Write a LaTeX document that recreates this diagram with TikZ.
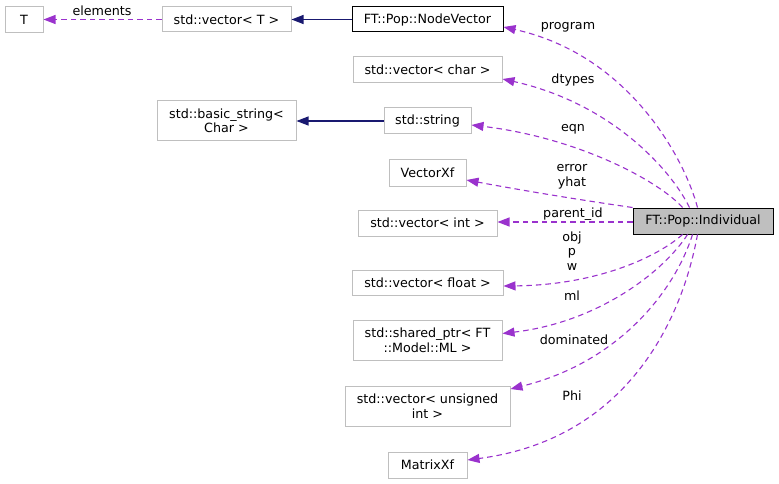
\documentclass[tikz,border=0pt]{standalone}
\usepackage{fontspec}
\setmainfont{DejaVu Sans}
\usetikzlibrary{arrows.meta}
\definecolor{usecol}{HTML}{9A32CD}
\definecolor{inhcol}{HTML}{191970}
\definecolor{boxgray}{HTML}{BFBFBF}
\tikzset{
  box/.style={draw=boxgray, fill=white, inner sep=0pt, align=center, line width=1pt,
    font=\fontsize{12.7}{14.5}\selectfont},
  refbox/.style={box, draw=black},
  mainbox/.style={box, draw=black, fill=boxgray},
  usage/.style={draw=usecol, line width=1.1pt, dash pattern=on 5.5pt off 4pt,
    -{Triangle[length=12pt,width=9pt,fill=usecol]}},
  inherit/.style={draw=inhcol, line width=1.1pt,
    -{Triangle[length=12pt,width=9pt,fill=inhcol]}},
  lbl/.style={inner sep=0pt, align=center, font=\fontsize{12.7}{14.5}\selectfont}
}
\begin{document}
\begin{tikzpicture}[x=1pt,y=-1pt]
\useasboundingbox (0,0) rectangle (779,484);
\fill[white] (0,0) rectangle (779,484);

\node[box, minimum width=38pt, minimum height=26pt] (T) at (24,19.5) {T};
\node[box, minimum width=129pt, minimum height=25pt] (vecT) at (226.5,19.5) {std::vector< T >};
\node[refbox, minimum width=151pt, minimum height=25pt] (prog) at (427.5,19.5) {FT::Pop::NodeVector};
\node[box, minimum width=149pt, minimum height=26pt] (vchar) at (427.5,70) {std::vector< char >};
\node[box, minimum width=139pt, minimum height=40pt] (bstr) at (226.5,121) {std::basic\_string<\\Char >};
\node[box, minimum width=87pt, minimum height=26pt] (str) at (427.5,121) {std::string};
\node[box, minimum width=77pt, minimum height=26pt] (vxf) at (427.5,173) {VectorXf};
\node[box, minimum width=139pt, minimum height=26pt] (vint) at (427.5,223) {std::vector< int >};
\node[mainbox, minimum width=140pt, minimum height=26pt] (ind) at (703,221) {FT::Pop::Individual};
\node[box, minimum width=151pt, minimum height=25pt] (vfl) at (427.5,282.5) {std::vector< float >};
\node[box, minimum width=149pt, minimum height=40pt] (ml) at (427.5,340.5) {std::shared\_ptr< FT\\::Model::ML >};
\node[box, minimum width=165pt, minimum height=40pt] (vuns) at (427.5,406) {std::vector< unsigned\\int >};
\node[box, minimum width=79pt, minimum height=26pt] (mxf) at (427.5,465) {MatrixXf};

% inheritance
\draw[inherit] (prog.west) -- (vecT.east);
\draw[inherit] (str.west) -- (bstr.east);

% usage
\draw[usage] (vecT.west) -- (T.east);
\draw[usage] ([xshift=65pt]ind.north west) .. controls (685,160) and (630,55) .. ([yshift=-7.5pt]prog.east);
\draw[usage] ([xshift=57pt]ind.north west) .. controls (670,168) and (610,103) .. ([yshift=-9pt]vchar.east);
\draw[usage] ([xshift=50pt]ind.north west) .. controls (660,182) and (580,138) .. ([yshift=-4pt]str.east);
\draw[usage] (ind.north west) .. controls (580,200) and (520,190) .. ([yshift=-7pt]vxf.east);
\draw[usage] ([yshift=-1pt]ind.west) -- ([yshift=1pt]vint.east);
\draw[usage] ([xshift=50pt]ind.south west) .. controls (660,255) and (600,285) .. ([yshift=-3.5pt]vfl.east);
\draw[usage] ([xshift=55pt]ind.south west) .. controls (665,270) and (600,322) .. ([yshift=7pt]ml.east);
\draw[usage] ([xshift=60pt]ind.south west) .. controls (675,290) and (620,362) .. ([yshift=17pt]vuns.east);
\draw[usage] ([xshift=65pt]ind.south west) .. controls (680,330) and (620,440) .. ([yshift=5pt]mxf.east);

% labels
\node[lbl] (lelem) at (102,11) {elements};
\node[lbl] (lprog) at (568,27) {program};
\node[lbl] (ldty) at (573,80) {dtypes};
\node[lbl] (leqn) at (573,129) {eqn};
\node[lbl] (lerr) at (572,177) {error\\yhat};
\node[lbl] (lpid) at (573,214) {parent\_id};
\node[lbl] (lobj) at (572,251) {obj\\p\\w};
\node[lbl] (lml) at (572,296) {ml};
\node[lbl] (ldom) at (574,340) {dominated};
\node[lbl] (lphi) at (572,396) {Phi};
\end{tikzpicture}
\end{document}
